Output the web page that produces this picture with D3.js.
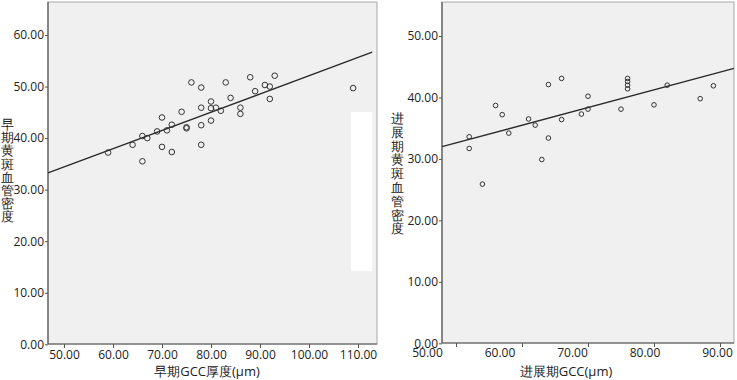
<!DOCTYPE html>
<html>
<head>
<meta charset="utf-8">
<script src="https://cdn.jsdelivr.net/npm/d3@7"></script>
<style>
  body { margin: 0; background: #fff; }
  svg text { font-family: "Open Sans", "DejaVu Sans", sans-serif; fill: #222; }
</style>
</head>
<body>
<div id="chart"></div>
<script>
// Left panel: early stage GCC thickness vs macular vessel density
const earlyGCC = [59, 64, 66, 66, 67, 69, 70, 70, 71, 72, 72, 74, 75, 75, 76, 78, 78, 78, 78,
                  80, 80, 80, 81, 82, 83, 84, 86, 86, 88, 89, 91, 92, 92, 93, 109]
const earlyVD  = [37.2, 38.7, 40.4, 35.5, 40.0, 41.3, 44.0, 38.3, 41.5, 42.6, 37.3, 45.1, 42.1, 41.9, 50.8, 49.8, 45.9, 42.5, 38.7,
                  47.1, 45.8, 43.4, 45.9, 45.3, 50.8, 47.8, 45.9, 44.7, 51.8, 49.1, 50.3, 50.0, 47.6, 52.1, 49.7]
const earlyFit = {intercept: 16.67, slope: 0.3545, xMax: 112.9}
const earlyMask = {x0: 108.6, x1: 112.9, y0: 14.2, y1: 45.06}   // white block in the original picture
const earlyXTicks = [50, 60, 70, 80, 90, 100, 110]
const earlyYTicks = [0, 10, 20, 30, 40, 50, 60]

// Right panel: progressive stage
const progGCC = [52, 52, 54, 56, 57, 58, 61, 62, 63, 64, 64, 66, 66, 69, 70, 70, 75, 76, 76, 76, 76, 80, 82, 87, 89]
const progVD  = [33.6, 31.7, 25.9, 38.7, 37.2, 34.2, 36.5, 35.5, 29.9, 42.1, 33.4, 43.1, 36.4, 37.3, 40.2, 38.1,
                 38.1, 43.1, 42.6, 42.0, 41.4, 38.8, 42.0, 39.8, 41.9]
const progFit = {intercept: 18.23, slope: 0.2876}
const progXTicks = [50, 60, 70, 80, 90]
const progYTicks = [0, 10, 20, 30, 40, 50]

const fmt = d3.format(".2f")

const svg = d3.select("#chart").append("svg")
    .attr("width", 737)
    .attr("height", 380)

// draw one panel
function panel(opt) {
    const P = opt.box
    const g = svg.append("g")

    // plot background and frame
    g.append("rect")
        .attr("x", P.LEFT).attr("y", P.TOP)
        .attr("width", P.RIGHT - P.LEFT).attr("height", P.BOTTOM - P.TOP)
        .attr("fill", "#f0f0f0")
        .attr("stroke", "#a8a8a8")
        .attr("stroke-width", 1)

    const x = opt.x, y = opt.y

    // mask block (if any)
    if (opt.mask) {
        g.append("rect")
            .attr("x", x(opt.mask.x0)).attr("y", y(opt.mask.y1))
            .attr("width", x(opt.mask.x1) - x(opt.mask.x0))
            .attr("height", y(opt.mask.y0) - y(opt.mask.y1))
            .attr("fill", "#fff")
    }

    // left and bottom axis lines, darker
    g.append("line").attr("x1", P.LEFT).attr("x2", P.LEFT).attr("y1", P.TOP).attr("y2", P.BOTTOM)
        .attr("stroke", "#555").attr("stroke-width", 1.2)
    g.append("line").attr("x1", P.LEFT).attr("x2", P.RIGHT).attr("y1", P.BOTTOM).attr("y2", P.BOTTOM)
        .attr("stroke", "#555").attr("stroke-width", 1.2)

    // y axis
    const ya = g.append("g")
        .attr("transform", "translate(" + P.LEFT + ",0)")
        .call(d3.axisLeft(y).tickValues(opt.yTicks).tickFormat(fmt).tickSize(3).tickPadding(1))
    ya.select(".domain").remove()
    ya.selectAll("line").attr("stroke", "#555")
    ya.selectAll("text").style("font-size", "12px").attr("fill", "#222")

    // x axis tick marks
    const xa = g.append("g")
        .attr("transform", "translate(0," + P.BOTTOM + ")")
        .call(d3.axisBottom(x).tickValues(opt.xTicks).tickFormat(opt.xLabelScale ? "" : fmt).tickSize(4).tickPadding(2))
    xa.select(".domain").remove()
    xa.selectAll("line").attr("stroke", "#555")
    xa.selectAll("text").style("font-size", "12px").attr("fill", "#222")

    // shifted tick labels (as in the original picture)
    if (opt.xLabelScale) {
        const xl = g.append("g")
            .attr("transform", "translate(0," + P.BOTTOM + ")")
            .call(d3.axisBottom(opt.xLabelScale).tickValues(opt.xTicks).tickFormat(fmt).tickSize(0).tickPadding(5))
        xl.select(".domain").remove()
        xl.selectAll("text").style("font-size", "12px").attr("fill", "#222")
    }

    // regression line
    const x0 = x.invert(P.LEFT), x1 = opt.fit.xMax !== undefined ? opt.fit.xMax : x.invert(P.RIGHT)
    g.append("line")
        .attr("x1", x(x0)).attr("y1", y(opt.fit.intercept + opt.fit.slope * x0))
        .attr("x2", x(x1)).attr("y2", y(opt.fit.intercept + opt.fit.slope * x1))
        .attr("stroke", "#2a2a2a").attr("stroke-width", 1.4)

    // points
    g.selectAll("circle.pt")
        .data(opt.xs.map((v, i) => ({x: v, y: opt.ys[i]})))
        .enter().append("circle")
            .attr("class", "pt")
            .attr("cx", d => x(d.x))
            .attr("cy", d => y(d.y))
            .attr("r", opt.r)
            .attr("fill", "none")
            .attr("stroke", "#333")
            .attr("stroke-width", 1)

    // x title
    g.append("text")
        .attr("x", opt.xTitlePos[0]).attr("y", opt.xTitlePos[1])
        .attr("text-anchor", "middle")
        .style("font-size", "13px")
        .text(opt.xTitle)

    // y title, one character per line
    const yt = g.append("text")
        .attr("text-anchor", "middle")
        .style("font-size", "13px")
    Array.from(opt.yTitle).forEach((ch, i) => {
        yt.append("tspan")
            .attr("x", opt.yTitlePos[0])
            .attr("y", opt.yTitlePos[1] + i * opt.yTitleStep)
            .text(ch)
    })
}

// left panel
panel({
    box: {LEFT: 48, RIGHT: 377, TOP: 2, BOTTOM: 344},
    x: d3.scaleLinear().domain([50, 110]).range([64, 358]),
    y: d3.scaleLinear().domain([0, 60]).range([344.3, 35]),
    xs: earlyGCC, ys: earlyVD,
    fit: earlyFit,
    mask: earlyMask,
    xTicks: earlyXTicks, yTicks: earlyYTicks,
    r: 2.8,
    xTitle: "早期GCC厚度(μm)", xTitlePos: [207, 376],
    yTitle: "早期黄斑血管密度", yTitlePos: [7, 129], yTitleStep: 13.2
})

// right panel
panel({
    box: {LEFT: 442, RIGHT: 734, TOP: 2, BOTTOM: 343},
    x: d3.scaleLinear().domain([50, 90]).range([456, 720]),
    xLabelScale: d3.scaleLinear().domain([50, 90]).range([427, 717]),
    y: d3.scaleLinear().domain([0, 50]).range([343.3, 36]),
    xs: progGCC, ys: progVD,
    fit: progFit,
    xTicks: progXTicks, yTicks: progYTicks,
    r: 2.3,
    xTitle: "进展期GCC(μm)", xTitlePos: [566, 376],
    yTitle: "进展期黄斑血管密度", yTitlePos: [397, 123], yTitleStep: 13.8
})
</script>
</body>
</html>
